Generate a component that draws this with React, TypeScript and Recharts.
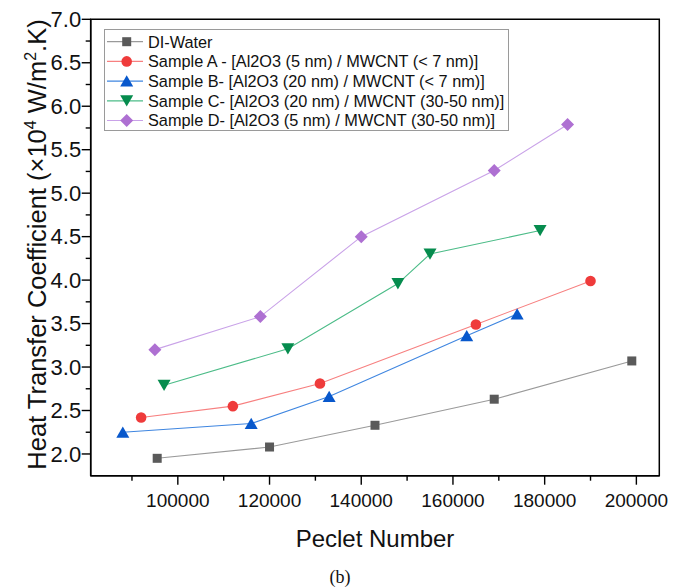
import React from 'react';
import { ScatterChart, Scatter, XAxis, YAxis, ReferenceArea, Legend, Label } from 'recharts';

// ---------- data ----------
const seriesNames = [
  'DI-Water',
  'Sample A - [Al2O3 (5 nm) / MWCNT (< 7 nm)]',
  'Sample B- [Al2O3 (20 nm) / MWCNT (< 7 nm)]',
  'Sample C- [Al2O3 (20 nm) / MWCNT (30-50 nm)]',
  'Sample D- [Al2O3 (5 nm) / MWCNT (30-50 nm)]',
];

const diPeclet = [95500, 120000, 143000, 169000, 199000];
const diHtc = [1.95, 2.08, 2.33, 2.63, 3.07];

const aPeclet = [92000, 112000, 131000, 165000, 190000];
const aHtc = [2.42, 2.55, 2.81, 3.49, 3.99];

const bPeclet = [88000, 116000, 133000, 163000, 174000];
const bHtc = [2.25, 2.35, 2.66, 3.36, 3.61];

const cPeclet = [97000, 124000, 148000, 155000, 179000];
const cHtc = [2.79, 3.21, 3.96, 4.3, 4.57];

const dPeclet = [95000, 118000, 140000, 169000, 185000];
const dHtc = [3.2, 3.58, 4.5, 5.26, 5.79];

const xTicks = [90000, 100000, 110000, 120000, 130000, 140000, 150000, 160000, 170000, 180000, 190000, 200000];
const yTicks = [2, 2.25, 2.5, 2.75, 3, 3.25, 3.5, 3.75, 4, 4.25, 4.5, 4.75, 5, 5.25, 5.5, 5.75, 6, 6.25, 6.5, 6.75, 7];
const xDomain = [81000, 205000];
const yDomain = [1.75, 7];

const xTitle = 'Peclet Number';
const caption = '(b)';

// ---------- styles ----------
const FONT = '"Liberation Sans", Arial, Helvetica, sans-serif';
const markerColors = ['#5a5a5a', '#ef3b3b', '#0858cc', '#068c4e', '#ae70d2'];
const lineColors = ['#9a9a9a', '#f78080', '#3f86e0', '#4cbc88', '#c9a2e8'];
const markerKinds = ['square', 'circle', 'triangle', 'triangleDown', 'diamond'];

const build = (xs: number[], ys: number[]) => xs.map((x, i) => ({ x, y: ys[i] }));
const seriesData = [
  build(diPeclet, diHtc),
  build(aPeclet, aHtc),
  build(bPeclet, bHtc),
  build(cPeclet, cHtc),
  build(dPeclet, dHtc),
];

function MarkerGlyph({ kind, cx, cy, color }: { kind: string; cx: number; cy: number; color: string }) {
  switch (kind) {
    case 'square':
      return <rect x={cx - 4.5} y={cy - 4.5} width={9} height={9} fill={color} />;
    case 'circle':
      return <circle cx={cx} cy={cy} r={5.3} fill={color} />;
    case 'triangle':
      return <polygon points={`${cx - 6.5},${cy + 5.5} ${cx + 6.5},${cy + 5.5} ${cx},${cy - 5.8}`} fill={color} />;
    case 'triangleDown':
      return <polygon points={`${cx - 6.5},${cy - 5.5} ${cx + 6.5},${cy - 5.5} ${cx},${cy + 5.8}`} fill={color} />;
    case 'diamond':
      return <polygon points={`${cx},${cy - 6.5} ${cx + 6.5},${cy} ${cx},${cy + 6.5} ${cx - 6.5},${cy}`} fill={color} />;
    default:
      return null;
  }
}

const makeShape = (kind: string, color: string) => (props: any) => {
  const { cx, cy } = props;
  if (cx == null || cy == null) return <g />;
  return <MarkerGlyph kind={kind} cx={cx} cy={cy} color={color} />;
};

const XTick = (props: any) => {
  const { x, y, payload } = props;
  const v = payload.value;
  const major = v % 20000 === 0;
  return (
    <g>
      <line x1={x} x2={x} y1={y} y2={y + (major ? 9 : 5)} stroke="#000" strokeWidth={1.4} />
      {major && (
        <text x={x} y={y + 31} textAnchor="middle" fontSize={19} fontFamily={FONT} fill="#111">
          {v}
        </text>
      )}
    </g>
  );
};

const YTick = (props: any) => {
  const { x, y, payload } = props;
  const v = payload.value;
  const major = Math.abs(v * 2 - Math.round(v * 2)) < 1e-9;
  return (
    <g>
      <line x1={x - (major ? 9 : 5)} x2={x} y1={y} y2={y} stroke="#000" strokeWidth={1.4} />
      {major && (
        <text x={x - 9.5} y={y} dy="0.35em" textAnchor="end" fontSize={22} fontFamily={FONT} fill="#111">
          {v.toFixed(1)}
        </text>
      )}
    </g>
  );
};

const LegendBox = () => {
  const rowH = 19.7;
  return (
    <svg width={405} height={102} style={{ display: 'block' }}>
      <rect x={0.5} y={0.5} width={404} height={101} fill="#fff" stroke="#9a9a9a" strokeWidth={1} />
      {seriesNames.map((name, i) => {
        const cy = 12.7 + i * rowH;
        return (
          <g key={name}>
            <line x1={3} x2={39} y1={cy} y2={cy} stroke={lineColors[i]} strokeWidth={1.2} />
            <MarkerGlyph kind={markerKinds[i]} cx={22.7} cy={cy} color={markerColors[i]} />
            <text x={44} y={cy} dy="0.36em" fontSize={16.3} fontFamily={FONT} fill="#111">
              {name}
            </text>
          </g>
        );
      })}
    </svg>
  );
};

const YTitle = (props: any) => {
  const { viewBox } = props;
  const cx = 38;
  const cy = viewBox.y + viewBox.height / 2 - 3;
  return (
    <text
      x={cx}
      y={cy}
      transform={`rotate(-90, ${cx}, ${cy})`}
      textAnchor="middle"
      fontSize={25.5}
      fontFamily={FONT}
      fill="#111"
    >
      Heat Transfer Coefficient (×10
      <tspan dy={-10} fontSize={16}>4</tspan>
      <tspan dy={10}> W/m</tspan>
      <tspan dy={-10} fontSize={16}>2</tspan>
      <tspan dy={10}>.K)</tspan>
    </text>
  );
};

const XTitle = (props: any) => {
  const { viewBox } = props;
  const cx = viewBox.x + viewBox.width / 2;
  return (
    <g>
      <text x={cx} y={viewBox.y + 71} textAnchor="middle" fontSize={24} fontFamily={FONT} fill="#111">
        {xTitle}
      </text>
      <text
        x={cx - 35}
        y={viewBox.y + 107}
        textAnchor="middle"
        fontSize={18}
        fontFamily='"Liberation Serif", "Times New Roman", serif'
        fill="#111"
      >
        {caption}
      </text>
    </g>
  );
};

export default function App() {
  return (
    <div style={{ width: 675, height: 580, background: '#fff' }}>
      <ScatterChart
        width={675}
        height={580}
        margin={{ top: 11.3, right: 23.7, bottom: 52.3, left: 22.7 }}
        style={{ background: '#fff' }}
      >
        <XAxis
          type="number"
          dataKey="x"
          domain={xDomain}
          allowDataOverflow
          ticks={xTicks}
          interval={0}
          tickSize={0}
          tickMargin={0}
          tickLine={false}
          tick={<XTick />}
          height={60}
          axisLine={{ stroke: '#000', strokeWidth: 1.5 }}
        >
          <Label content={<XTitle />} />
        </XAxis>
        <YAxis
          type="number"
          dataKey="y"
          domain={yDomain}
          allowDataOverflow
          ticks={yTicks}
          interval={0}
          tickSize={0}
          tickMargin={0}
          tickLine={false}
          tick={<YTick />}
          width={60}
          axisLine={{ stroke: '#000', strokeWidth: 1.5 }}
        >
          <Label content={<YTitle />} />
        </YAxis>
        <ReferenceArea
          x1={xDomain[0]}
          x2={xDomain[1]}
          y1={yDomain[0]}
          y2={yDomain[1]}
          fill="none"
          fillOpacity={0}
          stroke="#000"
          strokeWidth={1.5}
          ifOverflow="visible"
        />
        {seriesData.map((data, i) => (
          <Scatter
            key={seriesNames[i]}
            name={seriesNames[i]}
            data={data}
            fill={markerColors[i]}
            line={{ stroke: lineColors[i], strokeWidth: 1.1 }}
            lineType="joint"
            shape={makeShape(markerKinds[i], markerColors[i])}
            isAnimationActive={false}
          />
        ))}
        <Legend
          layout="horizontal"
          verticalAlign="middle"
          align="center"
          content={<LegendBox />}
          wrapperStyle={{ position: 'absolute', left: 96, top: 21, width: 405, height: 102 }}
        />
      </ScatterChart>
    </div>
  );
}
